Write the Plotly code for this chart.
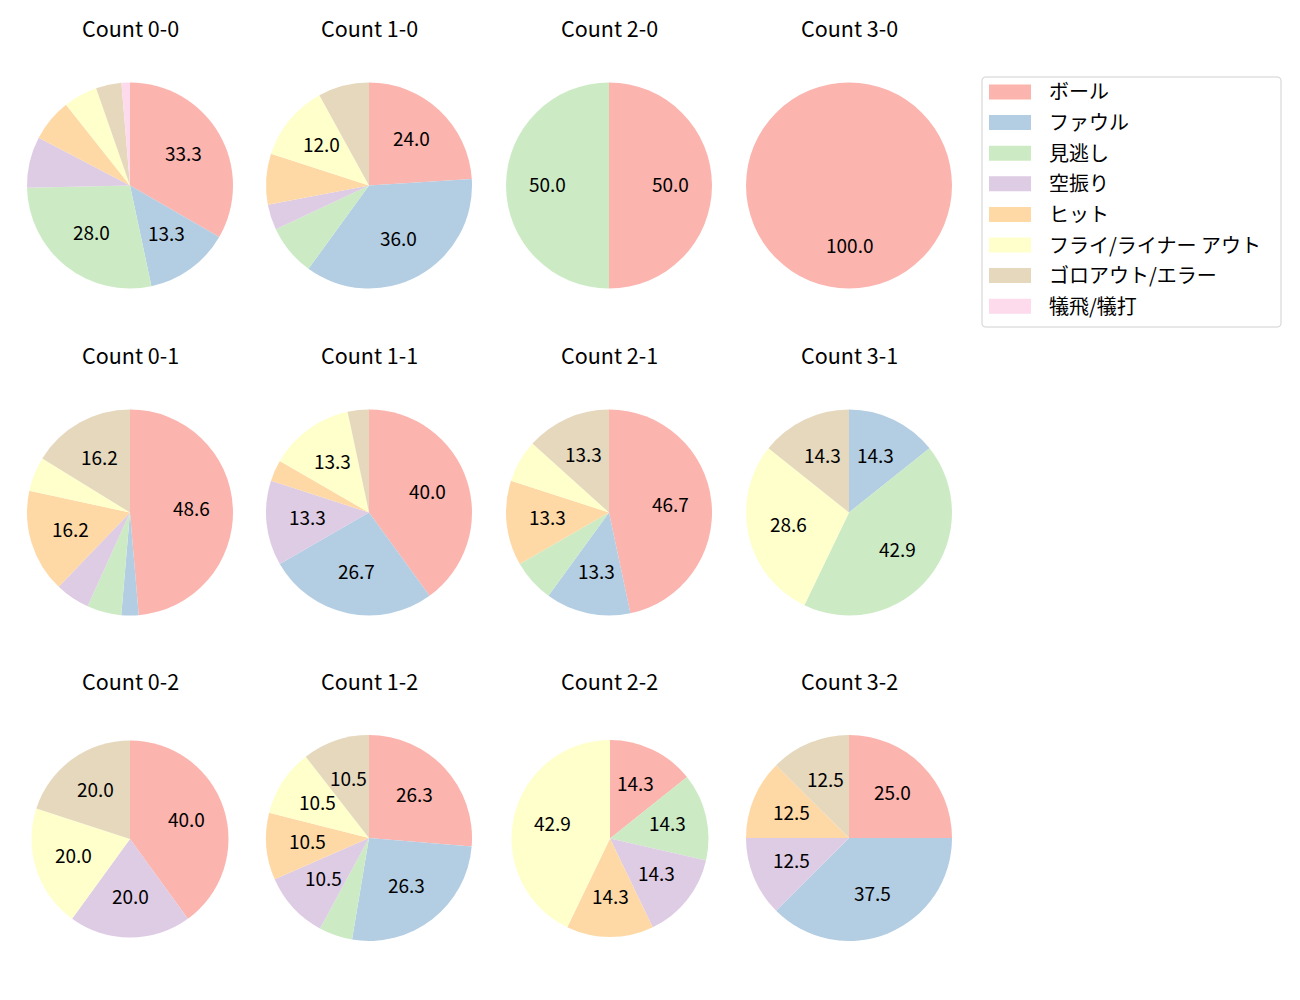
import math
import plotly.graph_objects as go

# ---------------- data ----------------
categories = ["ボール", "ファウル", "見逃し", "空振り", "ヒット",
              "フライ/ライナー アウト", "ゴロアウト/エラー", "犠飛/犠打"]
colors = ["#fbb4ae", "#b3cde3", "#ccebc5", "#decbe4", "#fed9a6",
          "#ffffcc", "#e5d8bd", "#fddaec"]

titles = ["Count 0-0", "Count 1-0", "Count 2-0", "Count 3-0",
          "Count 0-1", "Count 1-1", "Count 2-1", "Count 3-1",
          "Count 0-2", "Count 1-2", "Count 2-2", "Count 3-2"]

count_0_0 = [25, 10, 21, 6, 5, 4, 3, 1]
count_1_0 = [6, 9, 2, 1, 2, 3, 2, 0]
count_2_0 = [1, 0, 1, 0, 0, 0, 0, 0]
count_3_0 = [1, 0, 0, 0, 0, 0, 0, 0]
count_0_1 = [18, 1, 2, 2, 6, 2, 6, 0]
count_1_1 = [12, 8, 0, 4, 1, 4, 1, 0]
count_2_1 = [7, 2, 1, 0, 2, 1, 2, 0]
count_3_1 = [0, 1, 3, 0, 0, 2, 1, 0]
count_0_2 = [2, 0, 0, 1, 0, 1, 1, 0]
count_1_2 = [5, 5, 1, 2, 2, 2, 2, 0]
count_2_2 = [1, 0, 1, 1, 1, 3, 0, 0]
count_3_2 = [2, 3, 0, 1, 1, 0, 1, 0]

all_counts = [count_0_0, count_1_0, count_2_0, count_3_0,
              count_0_1, count_1_1, count_2_1, count_3_1,
              count_0_2, count_1_2, count_2_2, count_3_2]

# ---------------- layout ----------------
W, H = 1300, 1000
col_cx = [130, 369, 609, 849]
row_cy = [185.5, 512.5, 838]
title_y = [27, 354, 680]
radius = [103] * 12
radius[8] = 98.5
radius[10] = 98.5
center_override = {8: (130, 839), 10: (610, 838.5)}
LABEL_DY = -2.5  # visual centring of text

FONT = "Noto Sans CJK JP"
LABEL_SIZE = 19
TITLE_SIZE = 21.5
LEGEND_SIZE = 20

fig = go.Figure()
annotations = []
shapes = []

for i, (title, vals) in enumerate(zip(titles, all_counts)):
    r_i, c_i = divmod(i, 4)
    cx, cy = center_override.get(i, (col_cx[c_i], row_cy[r_i]))
    r = radius[i]
    fig.add_trace(go.Pie(
        labels=categories, values=vals,
        marker=dict(colors=colors, line=dict(width=0)),
        sort=False, direction="clockwise", rotation=0,
        textinfo="none", hoverinfo="label+value+percent",
        showlegend=False,
        domain=dict(x=[(cx - r) / W, (cx + r) / W],
                    y=[1 - (cy + r) / H, 1 - (cy - r) / H]),
    ))
    annotations.append(dict(
        text=title, x=col_cx[c_i] / W, y=1 - title_y[r_i] / H,
        xref="paper", yref="paper",
        showarrow=False, xanchor="center", yanchor="middle",
        font=dict(family=FONT, size=TITLE_SIZE, color="#000000"),
    ))
    # percentage labels (matplotlib-like, at 0.6 radius)
    total = sum(vals)
    cum = 0
    for v in vals:
        if v > 0:
            pct = 100.0 * v / total
            if pct >= 10:
                a = 2 * math.pi * (cum + v / 2) / total
                px = cx + 0.6 * r * math.sin(a)
                py = cy - 0.6 * r * math.cos(a) + LABEL_DY
                annotations.append(dict(
                    text=f"{pct:.1f}", x=px / W, y=1 - py / H,
                    xref="paper", yref="paper", showarrow=False,
                    xanchor="center", yanchor="middle",
                    font=dict(family=FONT, size=LABEL_SIZE, color="#000000"),
                ))
        cum += v

# ---------------- legend (matplotlib style) ----------------
lx0, lx1, ly0, ly1 = 982, 1281, 77, 327
rad = 4
def P(x, y):
    return f"{x / W:.6f},{1 - y / H:.6f}"
path = (f"M {P(lx0+rad, ly0)} L {P(lx1-rad, ly0)} Q {P(lx1, ly0)} {P(lx1, ly0+rad)} "
        f"L {P(lx1, ly1-rad)} Q {P(lx1, ly1)} {P(lx1-rad, ly1)} L {P(lx0+rad, ly1)} "
        f"Q {P(lx0, ly1)} {P(lx0, ly1-rad)} L {P(lx0, ly0+rad)} Q {P(lx0, ly0)} {P(lx0+rad, ly0)} Z")

shapes.append(dict(type="path", path=path, xref="paper", yref="paper",
                   line=dict(color="#d0d0d0", width=1), fillcolor="rgba(255,255,255,0.8)",
                   layer="above"))
for k, (cat, col) in enumerate(zip(categories, colors)):
    yc = 92 + k * 30.6
    shapes.append(dict(type="rect", xref="paper", yref="paper",
                       x0=989 / W, x1=1031 / W,
                       y0=1 - (yc - 7.5) / H, y1=1 - (yc + 7.5) / H,
                       fillcolor=col, line=dict(width=0), layer="above"))
    annotations.append(dict(text=cat, x=1047 / W, y=1 - (yc - 1) / H, xref="paper", yref="paper",
                            showarrow=False, xanchor="left", yanchor="middle",
                            font=dict(family=FONT, size=LEGEND_SIZE, color="#000000")))

fig.update_layout(
    width=W, height=H,
    margin=dict(l=0, r=0, t=0, b=0),
    paper_bgcolor="white", plot_bgcolor="white",
    showlegend=False,
    annotations=annotations,
    shapes=shapes,
    font=dict(family=FONT),
)

fig.write_html("out.html", config={"displayModeBar": False},
               post_script="document.body.style.margin='0';")
